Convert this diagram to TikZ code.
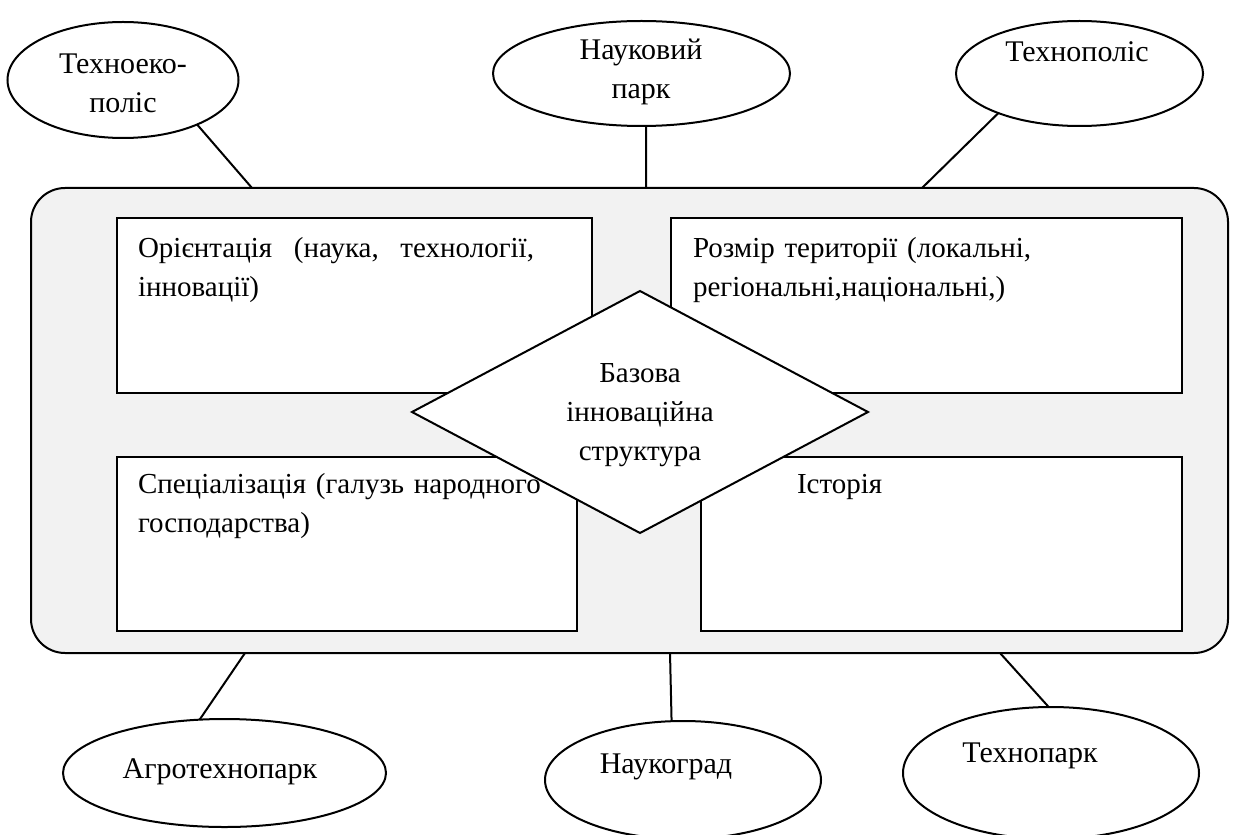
\documentclass[tikz,border=0pt]{standalone}
\usepackage{fontspec}
\setmainfont{Liberation Serif}
\usetikzlibrary{shapes.geometric}
\definecolor{panelgray}{HTML}{F2F2F2}
\begin{document}
\begin{tikzpicture}[x=0.5pt,y=-0.5pt,
  every node/.style={inner sep=0pt, outer sep=0pt},
  ln/.style={line width=1pt},
  oval/.style={ellipse, draw, line width=1pt, fill=white},
  card/.style={draw, line width=1pt, fill=white},
  txt/.style={font=\fontsize{14.5pt}{19.5pt}\selectfont},
  ctxt/.style={txt, align=center, text width=200pt, anchor=base},
  otxt/.style={ctxt, font=\fontsize{15pt}{19.5pt}\selectfont},
  ltxt/.style={txt, align=left, text width=240pt, anchor=base west},
]
\useasboundingbox (0,0) rectangle (1234,834);

% panel
\node[draw, line width=1pt, rounded corners=17pt, fill=panelgray,
      minimum width=598.5pt, minimum height=232.5pt] (panel) at (629.5,420.5) {};

% inner boxes
\node[card, minimum width=237.5pt, minimum height=87.5pt] (b1) at (354.5,305.5) {};
\node[card, minimum width=255.5pt, minimum height=87.5pt] (b2) at (926.5,305.5) {};
\node[card, minimum width=230pt, minimum height=87pt] (b3) at (347,544) {};
\node[card, minimum width=240.5pt, minimum height=87pt] (b4) at (941.5,544) {};

% box texts
\node[ltxt] (t8) at (138,257) {\hbox to 198pt{Орієнтація \hfil(наука, \hfil технології,}\\інновації)};
\node[ltxt] (t9) at (693,257) {Розмір території (локальні,\\регіональні,національні,)};
\node[ltxt] (t10) at (138,493) {Спеціалізація (галузь народного\\господарства)};
\node[ltxt] (t11) at (797,493) {Історія};

% diamond
\node[diamond, draw, line width=1pt, fill=white, minimum width=228pt, minimum height=121pt] (dm) at (640,412) {};
\node[ctxt] (t7) at (640,382) {Базова\\інноваційна\\структура};

% ellipses
\node[oval, minimum width=115.5pt, minimum height=58pt] (e1) at (123,80) {};
\node[oval, minimum width=148.5pt, minimum height=52.5pt] (e2) at (641.5,73.5) {};
\node[oval, minimum width=123.5pt, minimum height=52.5pt] (e3) at (1079.5,73.5) {};
\node[oval, minimum width=161.5pt, minimum height=54pt] (e4) at (224.5,773) {};
\node[oval, minimum width=138pt, minimum height=59pt] (e5) at (683,780) {};
\node[oval, minimum width=148pt, minimum height=66pt] (e6) at (1051,773) {};

\node[otxt] (t1) at (123,74) {Техноеко-\\поліс};
\node[otxt] (t2) at (641,60) {Науковий\\парк};
\node[otxt] (t3) at (1077,62) {Технополіс};
\node[otxt] (t4) at (220,778) {Агротехнопарк};
\node[otxt] (t5) at (666,773) {Наукоград};
\node[otxt] (t6) at (1030,762) {Технопарк};

% connectors
\coordinate (c1) at (252,188);
\coordinate (c2) at (646,188);
\coordinate (c3) at (922,188);
\coordinate (c4) at (245,653);
\coordinate (c5) at (670,653);
\coordinate (c6) at (1000,653);
\draw[ln] (e1.-31) -- (c1);
\draw[ln] (e2.-85) -- (c2);
\draw[ln] (e3.206) -- (c3);
\draw[ln] (c4) -- (e4.115);
\draw[ln] (c5) -- (e5.101);
\draw[ln] (c6) -- (e6.92);
\end{tikzpicture}
\end{document}
